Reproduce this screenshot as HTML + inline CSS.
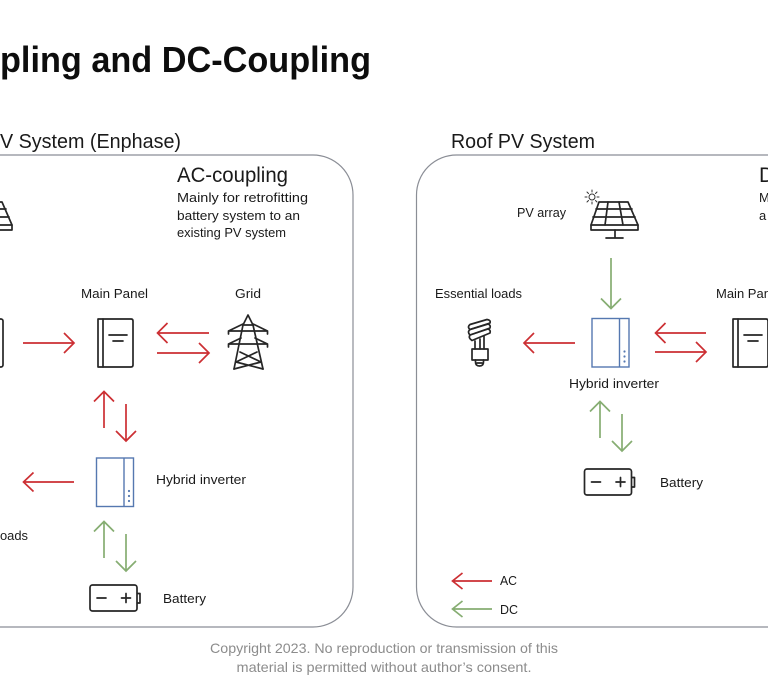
<!DOCTYPE html>
<html><head><meta charset="utf-8">
<style>
html,body{margin:0;padding:0;background:#fff;width:768px;height:690px;overflow:hidden}
svg{display:block;font-family:"Liberation Sans",sans-serif}
text{fill:#1a1a1a}
.ln{fill:none;stroke:#262626;stroke-width:1.7;stroke-linejoin:round;stroke-linecap:round}
.sun{fill:none;stroke:#333;stroke-width:1;stroke-linecap:round}
.inv{fill:none;stroke:#5578b0;stroke-width:1.4}
.r{fill:none;stroke:#cc2f33;stroke-width:1.7}
.g{fill:none;stroke:#86ad72;stroke-width:1.7}
.d{fill:#5578b0}
</style></head>
<body>
<svg width="768" height="690" viewBox="0 0 768 690" xmlns="http://www.w3.org/2000/svg">
<defs>
<g id="pv" class="ln">
<path d="M599 202H628L638 225H591Z"/><path d="M591 225V230H638V225"/>
<path d="M596 209H632M593 217H635M608 202L605 225M619 202L623 225"/>
<path d="M615 230V237M606 238H623"/>
</g>
<g id="panel" class="ln">
<path d="M98 319H131Q133 319 133 321V365Q133 367 131 367H98Z"/>
<path d="M103 319V367M109 335H127M113 341H123"/>
</g>
<g id="inv">
<rect class="inv" x="96.5" y="458" width="37" height="48.5"/>
<path class="inv" d="M124 458V506.5"/>
<circle class="d" cx="129" cy="491" r="1.1"/><circle class="d" cx="129" cy="496" r="1.1"/><circle class="d" cx="129" cy="501" r="1.1"/>
</g>
<g id="bat" class="ln">
<rect x="90" y="585" width="47" height="26" rx="2.5"/>
<path d="M137.5 593.5H140V603H137.5M97 598H106M121.500 598H130.500M126 593.500V602.500"/>
</g>
</defs>

<!-- Title -->
<text x="371" y="72" text-anchor="end" font-size="36" font-weight="700" textLength="371" lengthAdjust="spacingAndGlyphs" style="fill:#0d0d0d">pling and DC-Coupling</text>

<!-- Section headers -->
<text x="181" y="148" text-anchor="end" font-size="20" textLength="181" lengthAdjust="spacingAndGlyphs">V System (Enphase)</text>
<text x="451" y="148" font-size="20" textLength="144" lengthAdjust="spacingAndGlyphs">Roof PV System</text>

<!-- Frames -->
<rect x="-100" y="155" width="453" height="472" rx="40" fill="none" stroke="#8b8e96" stroke-width="1.2"/>
<rect x="416.500" y="155" width="500" height="472" rx="40" fill="none" stroke="#8b8e96" stroke-width="1.2"/>

<!-- AC-coupling text -->
<text x="177" y="182" font-size="21" textLength="111" lengthAdjust="spacingAndGlyphs">AC-coupling</text>
<text x="177" y="202" font-size="13" textLength="131" lengthAdjust="spacingAndGlyphs">Mainly for retrofitting</text>
<text x="177" y="220" font-size="13" textLength="123" lengthAdjust="spacingAndGlyphs">battery system to an</text>
<text x="177" y="237" font-size="13" textLength="109" lengthAdjust="spacingAndGlyphs">existing PV system</text>

<!-- DC-coupling clipped text -->
<text x="759" y="182" font-size="21">D</text>
<text x="759" y="202" font-size="13">M</text>
<text x="759" y="220" font-size="13">a</text>

<!-- Left diagram -->
<use href="#pv" x="-626"/>
<text x="81" y="298" font-size="13" textLength="67" lengthAdjust="spacingAndGlyphs">Main Panel</text>
<text x="235" y="298" font-size="13" textLength="26" lengthAdjust="spacingAndGlyphs">Grid</text>
<rect class="ln" x="-30" y="319" width="33" height="48" rx="2"/>
<path class="r" d="M23 343H74M64 333L74 343L64 353"/>
<use href="#panel"/>
<path class="r" d="M209 333H157.500M167.500 323L157.500 333L167.500 343"/>
<path class="r" d="M157 353H209M199 343L209 353L199 363"/>
<!-- tower -->
<g class="ln">
<path d="M234 369L243 325L248 315L253 325L263 369"/>
<path d="M243 325H253"/>
<path d="M228.500 334V331L243 324M267.500 334V331L253 324M228.500 331H267.500"/>
<path d="M228.500 347V344L241 338M267.500 347V344L255 338M228.500 344H267.500"/>
<path d="M240 352L261 362M257 352L236 362M236 362L263 369M261 362L234 369"/>
</g>
<path class="r" d="M104 428V391.500M94 401.500L104 391.500L114 401.500"/>
<path class="r" d="M126 404V441M116 431L126 441L136 431"/>
<use href="#inv"/>
<path class="r" d="M74 482H23.500M33.500 472.500L23.500 482L33.500 491.500"/>
<text x="156" y="484" font-size="13" textLength="90" lengthAdjust="spacingAndGlyphs">Hybrid inverter</text>
<text x="28" y="540" text-anchor="end" font-size="13" textLength="28" lengthAdjust="spacingAndGlyphs">oads</text>
<path class="g" d="M104 558V521.500M94 531.500L104 521.500L114 531.500"/>
<path class="g" d="M126 534V571M116 561L126 571L136 561"/>
<use href="#bat"/>
<text x="163" y="603" font-size="13" textLength="43" lengthAdjust="spacingAndGlyphs">Battery</text>

<!-- Right diagram -->
<text x="517" y="217" font-size="13" textLength="49" lengthAdjust="spacingAndGlyphs">PV array</text>
<use href="#pv"/>
<g class="sun">
<circle cx="592" cy="197" r="3"/>
<path d="M592 190V192M592 202V204M585 197H587M597 197H599M587 192L588.500 193.500M597 192L595.500 193.500M587 202L588.500 200.500M597 202L595.500 200.500"/>
</g>
<path class="g" d="M611 258V308.500M601 298.500L611 308.500L621 298.500"/>
<text x="435" y="298" font-size="13" textLength="87" lengthAdjust="spacingAndGlyphs">Essential loads</text>
<text x="716" y="298" font-size="13">Main Panel</text>
<!-- bulb -->
<g class="ln">
<path d="M470 324.500L487 319.500Q491 320 490 323L470 329.500Q467 327 470 324.500Z"/>
<path d="M470 329.500L488 324Q491 325 490 328L470 335Q467 332 470 329.500Z"/>
<path d="M470 335L488 329Q491 330 490 333L472 340.500Q468 338 470 335Z"/>
<path d="M475 341V349M480 339V349M484 336V349"/>
<rect x="472" y="349" width="16" height="11"/>
<path d="M475.500 360V362Q475.500 366 479.500 366Q483.500 366 483.500 362V360M477 363H482"/>
</g>
<path class="r" d="M575 343H524M534 333L524 343L534 353"/>
<use href="#inv" x="495.500" y="-139.500"/>
<path class="r" d="M706 333H655.500M665.500 323L655.500 333L665.500 343"/>
<path class="r" d="M655 352H706M696 342L706 352L696 362"/>
<use href="#panel" x="635"/>
<text x="569" y="388" font-size="13" textLength="90" lengthAdjust="spacingAndGlyphs">Hybrid inverter</text>
<path class="g" d="M600 438V401.500M590 411.500L600 401.500L610 411.500"/>
<path class="g" d="M622 414V451M612 441L622 451L632 441"/>
<use href="#bat" x="494.500" y="-116"/>
<text x="660" y="487" font-size="13" textLength="43" lengthAdjust="spacingAndGlyphs">Battery</text>

<!-- Legend -->
<path class="r" d="M492 581H452.500M462.500 573L452.500 581L462.500 589"/>
<text x="500" y="585" font-size="13" textLength="17" lengthAdjust="spacingAndGlyphs">AC</text>
<path class="g" d="M492 609H452.500M462.500 601L452.500 609L462.500 617"/>
<text x="500" y="614" font-size="13" textLength="18" lengthAdjust="spacingAndGlyphs">DC</text>

<!-- Footer -->
<text x="384" y="653" text-anchor="middle" font-size="14" textLength="348" lengthAdjust="spacingAndGlyphs" style="fill:#8c8c8c">Copyright 2023. No reproduction or transmission of this</text>
<text x="384" y="672" text-anchor="middle" font-size="14" textLength="295" lengthAdjust="spacingAndGlyphs" style="fill:#8c8c8c">material is permitted without author’s consent.</text>
</svg>
</body></html>
